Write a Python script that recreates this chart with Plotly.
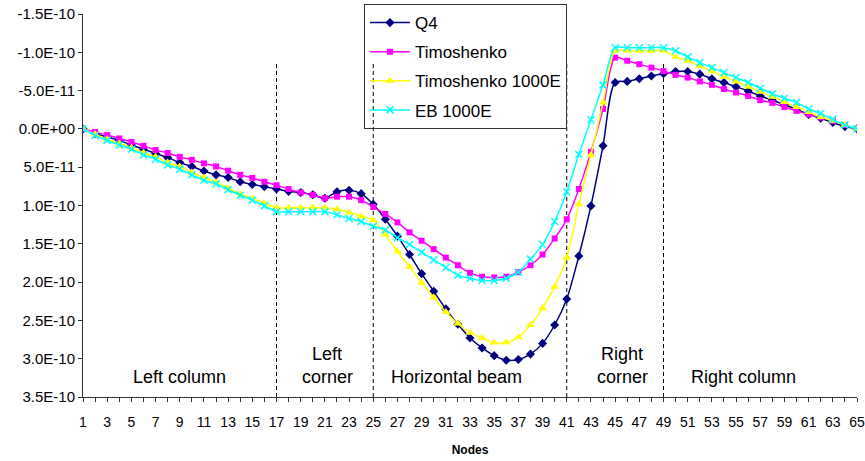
import numpy as np
import plotly.graph_objects as go

# Node numbers along the frame
nodes = list(range(1, 66))

# Displacements in units of 1E-11 (positive = downward, axis is reversed)
q4 = [0, 0.6, 1.05, 1.5, 2.1, 2.65, 3.2, 3.75, 4.4, 4.9,
      5.5, 6.0, 6.35, 6.9, 7.25, 7.55, 7.85, 8.15, 8.3, 8.6,
      9.05, 8.2, 8.0, 8.45, 9.85, 11.8, 14.0, 16.4, 18.9, 21.2,
      23.5, 25.5, 27.3, 28.6, 29.6, 30.2, 30.1, 29.4, 28.0, 25.6,
      22.2, 16.6, 10.05, 2.2, -6.05, -6.2, -6.55, -6.9, -7.2, -7.5,
      -7.5, -7.15, -6.55, -6.05, -5.5, -4.95, -4.3, -3.75, -3.15, -2.55,
      -1.9, -1.4, -0.85, -0.3, 0]

timoshenko = [0, 0.4, 0.8, 1.25, 1.7, 2.2, 2.75, 3.15, 3.65, 4.05,
              4.5, 4.9, 5.45, 6.0, 6.4, 6.9, 7.35, 7.85, 8.3, 8.6,
              9.05, 8.85, 8.85, 9.3, 10.2, 11.1, 12.2, 13.5, 14.6, 15.7,
              16.8, 17.8, 18.8, 19.3, 19.4, 19.3, 18.7, 17.8, 16.4, 14.3,
              11.8, 7.85, 3.0, -2.6, -9.3, -8.9, -8.45, -8.0, -7.55, -7.05,
              -6.7, -6.2, -5.75, -5.2, -4.75, -4.3, -3.75, -3.4, -2.85, -2.35,
              -1.9, -1.5, -1.05, -0.5, 0]

timoshenko_1000e = [0, 0.7, 1.35, 1.9, 2.45, 3.1, 3.65, 4.4, 4.9, 5.7,
                    6.35, 7.0, 7.75, 8.5, 9.05, 9.7, 10.3, 10.3, 10.3, 10.3,
                    10.3, 10.5, 10.9, 11.4, 11.9, 13.8, 16.0, 18.0, 20.1, 22.0,
                    23.9, 25.4, 26.6, 27.3, 27.9, 27.9, 27.2, 25.6, 23.4, 20.6,
                    16.8, 9.8, 3.4, -3.45, -10.2, -10.2, -10.2, -10.2, -10.2, -9.4,
                    -8.9, -8.2, -7.55, -6.8, -6.2, -5.5, -4.85, -4.2, -3.5, -2.85,
                    -2.2, -1.55, -1.05, -0.5, 0]

eb_1000e = [0, 0.85, 1.5, 2.1, 2.65, 3.4, 3.95, 4.7, 5.25, 6.0,
            6.7, 7.2, 7.95, 8.65, 9.3, 10.05, 10.8, 10.8, 10.8, 10.8,
            10.8, 11.2, 11.7, 12.1, 12.7, 13.2, 14.2, 15.1, 16.1, 17.1,
            18.1, 19.1, 19.5, 19.8, 19.8, 19.5, 18.7, 17.0, 15.1, 12.1,
            8.2, 3.35, -1.2, -5.75, -10.6, -10.6, -10.6, -10.6, -10.6, -10.2,
            -9.4, -8.65, -8.0, -7.35, -6.7, -6.05, -5.3, -4.6, -4.0, -3.45,
            -2.6, -2.0, -1.25, -0.5, 0]

unit = 1e-11

# Region boundaries (node numbers) and region labels
boundaries = [17, 25, 41, 49]
regions = [("Left column", 8.96, None), ("Left", 21.2, "corner"),
           ("Horizontal beam", 31.85, None), ("Right", 45.6, "corner"),
           ("Right column", 55.6, None)]

y_ticks = [-1.5e-10, -1.0e-10, -5.0e-11, 0.0, 5.0e-11, 1.0e-10, 1.5e-10,
           2.0e-10, 2.5e-10, 3.0e-10, 3.5e-10]
y_ticktext = ["-1.5E-10", "-1.0E-10", "-5.0E-11", "0.0E+00", "5.0E-11",
              "1.0E-10", "1.5E-10", "2.0E-10", "2.5E-10", "3.0E-10", "3.5E-10"]

FONT = "Liberation Sans, Arial, sans-serif"

series = [
    ("Q4", q4, "#000080", "diamond", 7, None),
    ("Timoshenko", timoshenko, "#FF00FF", "square", 6, None),
    ("Timoshenko 1000E", timoshenko_1000e, "#FFFF00", "triangle-up", 8, None),
    ("EB 1000E", eb_1000e, "#00FFFF", "x-thin", 7, 1.5),
]

fig = go.Figure()
for name, vals, color, symbol, size, mlw in series:
    marker = dict(color=color, symbol=symbol, size=size)
    if mlw:
        marker["line"] = dict(color=color, width=mlw)
    fig.add_trace(go.Scatter(
        x=nodes, y=np.array(vals) * unit, name=name, mode="lines+markers",
        line=dict(color=color, width=1.5, shape="spline", smoothing=0.8),
        marker=marker, legendgroup=name,
    ))

shapes = []
for b in boundaries:
    shapes.append(dict(type="line", xref="x", yref="y", x0=b, x1=b,
                       y0=3.5e-10, y1=-8.5e-11, layer="below",
                       line=dict(color="black", width=1, dash="4px,3px")))

annotations = []
for label, xc, second in regions:
    if second:
        annotations.append(dict(x=xc, y=29.4 * unit, xref="x", yref="y", text=label,
                                showarrow=False, font=dict(size=18, color="black")))
        annotations.append(dict(x=xc, y=32.4 * unit, xref="x", yref="y", text=second,
                                showarrow=False, font=dict(size=18, color="black")))
    else:
        annotations.append(dict(x=xc, y=32.4 * unit, xref="x", yref="y", text=label,
                                showarrow=False, font=dict(size=18, color="black")))

x_ticktext = [str(n) if n % 2 == 1 else "" for n in nodes]

fig.update_layout(
    width=865, height=461,
    margin=dict(l=83, r=8, t=14, b=64, autoexpand=False),
    paper_bgcolor="white", plot_bgcolor="white",
    font=dict(family=FONT, color="black"),
    shapes=shapes, annotations=annotations,
    legend=dict(x=0.363, y=1.026, xanchor="left", yanchor="top",
                bgcolor="rgba(0,0,0,0)", bordercolor="#333333", borderwidth=1,
                font=dict(size=17, family=FONT), tracegroupgap=4,
                itemwidth=40),
    xaxis=dict(range=[1, 65], tickmode="array", tickvals=nodes, ticktext=x_ticktext,
               ticks="outside", ticklen=4, tickcolor="#333333", showline=True,
               linecolor="#333333", linewidth=1, showgrid=False, zeroline=False,
               tickfont=dict(size=14), tickangle=0, ticklabelstandoff=8,
               title=dict(text="<b>Nodes</b>", font=dict(size=12), standoff=16)),
    yaxis=dict(range=[3.5e-10, -1.5e-10], tickmode="array", tickvals=y_ticks,
               ticktext=y_ticktext, ticks="outside", ticklen=4, tickcolor="#333333",
               showline=True, linecolor="#333333", linewidth=1, showgrid=False,
               zeroline=False, tickfont=dict(size=15)),
)

fig.write_html("out.html")
